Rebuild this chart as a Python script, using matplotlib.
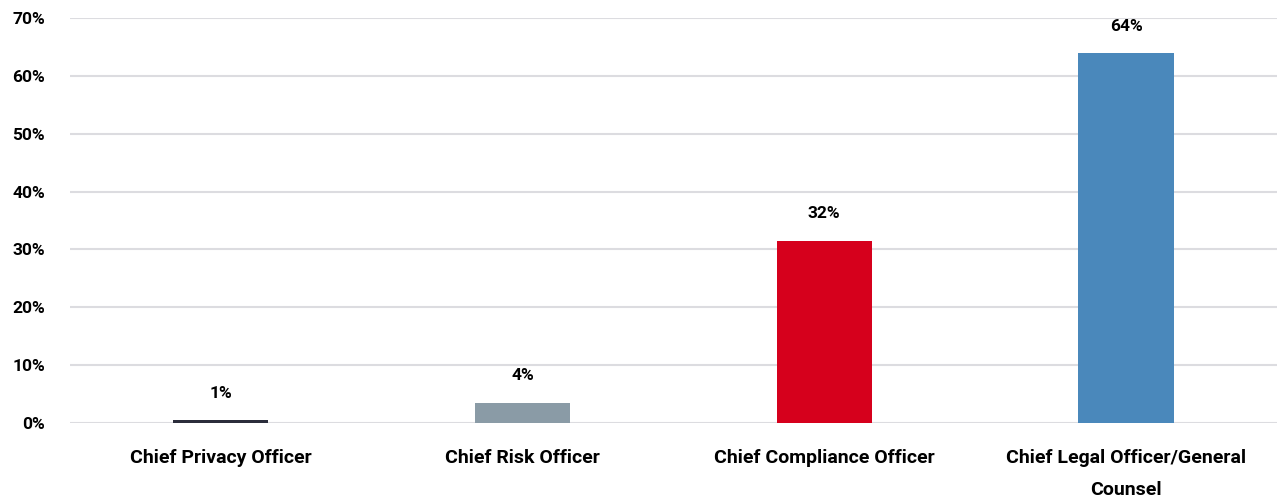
import matplotlib.pyplot as plt
import numpy as np
from matplotlib.ticker import PercentFormatter

plt.rcParams['font.family'] = ['Roboto', 'DejaVu Sans']

roles = ['Chief Privacy Officer', 'Chief Risk Officer',
         'Chief Compliance Officer', 'Chief Legal Officer/General\nCounsel']
shares = [0.5, 3.5, 31.5, 63.9]
labels = ['1%', '4%', '32%', '64%']
colors = ['#2b2d3b', '#8a9ba6', '#d6001c', '#4a88bb']

fig = plt.figure(figsize=(12.82, 4.98), dpi=100)
ax = fig.add_axes([0.0546, 0.1506, 0.9414, 0.8134])

x = np.arange(len(roles))
ax.bar(x, shares, width=0.315, color=colors, zorder=3)

for xi, v, lab in zip(x, shares, labels):
    ax.annotate(lab, (xi, v), xytext=(0, 14), textcoords='offset points',
                ha='center', va='bottom', fontsize=12.5, fontweight='bold')

ax.set_xlim(-0.5, len(roles) - 0.5)
ax.set_ylim(0, 70)
ax.set_yticks(np.arange(0, 71, 10))
ax.yaxis.set_major_formatter(PercentFormatter(decimals=0))
ax.set_xticks(x)
ax.set_xticklabels(roles, fontsize=14, fontweight='bold', linespacing=1.95, va='top')
for lab in ax.get_yticklabels():
    lab.set_fontweight('bold')
    lab.set_fontsize(12.5)

ax.grid(axis='y', color='#dcdce0', linewidth=1.5, zorder=0)
for s in ax.spines.values():
    s.set_visible(False)
ax.tick_params(length=0)
ax.tick_params(axis='y', pad=18)
ax.tick_params(axis='x', pad=19)

fig.savefig('out.png', dpi=100)
